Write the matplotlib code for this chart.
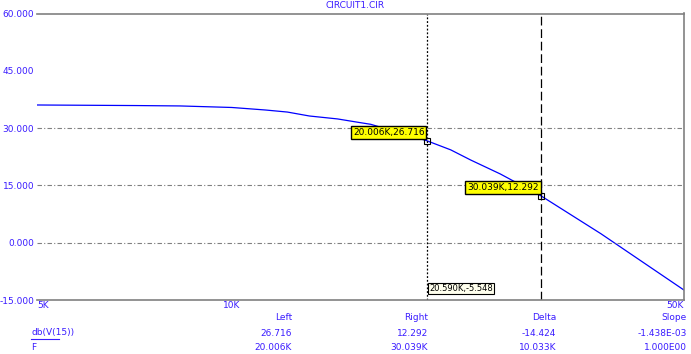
import matplotlib
matplotlib.use('Agg')
import matplotlib.pyplot as plt

plt.rcParams['font.family'] = ['Liberation Sans Narrow', 'DejaVu Sans']

# data
freq = [5000, 7140, 8320, 10000, 11270, 12190, 13180, 14570, 15700, 16390,
        20006, 21800, 23400, 26000, 30039, 37200, 50000]
db_v15 = [36.05, 35.9, 35.8, 35.4, 34.74, 34.2, 33.17, 32.4, 31.5, 31.0,
          26.716, 24.3, 21.65, 18.0, 12.292, 2.35, -12.4]

y_ticks = [60, 45, 30, 15, 0, -15]
y_ticklabels = ['60.000', '45.000', '30.000', '15.000', '0.000', '-15.000']
x_ticks = [5000, 10000, 50000]
x_ticklabels = ['5K', '10K', '50K']

cursor_f = [20006, 30039]
cursor_db = [26.716, 12.292]
cursor_labels = ['20.006K,26.716', '30.039K,12.292']
readout = '20.590K,-5.548'

col_heads = ['Left', 'Right', 'Delta', 'Slope']
row_db = ['26.716', '12.292', '-14.424', '-1.438E-03']
row_f = ['20.006K', '30.039K', '10.033K', '1.000E00']

txt_col = '#3a1cff'
fs = 6.5

fig = plt.figure(figsize=(6.91, 3.54), dpi=100)
ax = fig.add_axes([37 / 691, 54 / 354, 647 / 691, 286.5 / 354])

ax.plot(freq, db_v15, color='#0000ff', lw=0.9)
ax.set_xscale('log')
ax.set_xlim(5000, 50000)
ax.set_ylim(-15, 60)

ax.set_yticks(y_ticks)
ax.set_yticklabels(y_ticklabels)
ax.set_xticks(x_ticks)
ax.set_xticklabels(x_ticklabels)
ax.minorticks_off()
ax.tick_params(length=0, labelsize=fs, labelcolor=txt_col, pad=2)
for lab, ha in zip(ax.get_xticklabels(), ['left', 'center', 'right']):
    lab.set_ha(ha)
ax.tick_params(axis='x', pad=1)

# only 30, 15 and 0 have a grid line in the original
for yv in [30, 15, 0]:
    ax.axhline(yv, color='#808080', lw=0.8, ls=(0, (4, 2, 1, 2)))

ax.spines['left'].set_visible(False)
for s in ['top', 'bottom', 'right']:
    ax.spines[s].set_color('#808080')
    ax.spines[s].set_linewidth(1.2)

# cursors
ax.axvline(cursor_f[0], color='black', lw=0.9, ls=(0, (1.5, 1.5)))
ax.axvline(cursor_f[1], color='black', lw=0.9, ls=(0, (7, 3)))
for f, d, lab in zip(cursor_f, cursor_db, cursor_labels):
    ax.plot([f], [d], marker='s', ms=4, mfc='none', mec='black', mew=0.8)
    ax.annotate(lab, xy=(f, d), xytext=(-1.5, 2.5), textcoords='offset points',
                ha='right', va='bottom', fontsize=fs, color='black',
                bbox=dict(boxstyle='square,pad=0.2', fc='#ffff00', ec='black', lw=1))

ax.text(0.606, 0.025, readout, transform=ax.transAxes, fontsize=fs - 0.5,
        color='black', ha='left', va='bottom',
        bbox=dict(boxstyle='square,pad=0.15', fc='#ffffee', ec='black', lw=0.8))

fig.text(355 / 691, 1 - 6 / 354, 'CIRCUIT1.CIR', ha='center', va='center',
         fontsize=fs, color=txt_col)

# cursor table
col_x = [292, 428, 556, 687]
for x, h, a, b in zip(col_x, col_heads, row_db, row_f):
    fig.text(x / 691, 1 - 318 / 354, h, ha='right', va='center', fontsize=fs, color=txt_col)
    fig.text(x / 691, 1 - 333 / 354, a, ha='right', va='center', fontsize=fs, color=txt_col)
    fig.text(x / 691, 1 - 347 / 354, b, ha='right', va='center', fontsize=fs, color=txt_col)
fig.text(31 / 691, 1 - 333 / 354, 'db(V(15))', ha='left', va='center', fontsize=fs,
         color=txt_col)
fig.add_artist(plt.Line2D([31 / 691, 59 / 691], [1 - 338.5 / 354, 1 - 338.5 / 354],
                          color=txt_col, lw=0.8))
fig.text(31 / 691, 1 - 347 / 354, 'F', ha='left', va='center', fontsize=fs, color=txt_col)

fig.savefig('out.png', dpi=100)
